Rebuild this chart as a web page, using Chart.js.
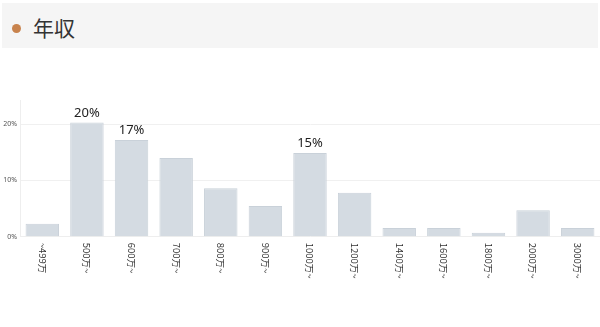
<!DOCTYPE html>
<html><head><meta charset="utf-8">
<script src="https://cdn.jsdelivr.net/npm/chart.js@4"></script>
<style>
html,body{margin:0;padding:0;background:#fff;width:600px;height:327px;overflow:hidden;font-family:"Noto Sans CJK JP","Noto Sans",sans-serif;}
#hdr{position:absolute;left:2px;top:3px;width:596px;height:45px;background:#f5f5f5;}
#dot{position:absolute;left:12px;top:24px;width:9px;height:9px;border-radius:50%;background:#c8834d;}
#ttl{position:absolute;left:33px;top:10px;font-size:21px;line-height:34px;color:#333;}
#wrap{position:absolute;left:0;top:0;width:600px;height:327px;}
</style></head><body>
<div id="hdr"></div><div id="dot"></div><div id="ttl">年収</div>
<div id="wrap"><canvas id="c" width="600" height="327"></canvas></div>
<script>
const categories = ["~499万","500万~","600万~","700万~","800万~","900万~","1000万~","1200万~","1400万~","1600万~","1800万~","2000万~","3000万~"];
const values = [2.3, 20.3, 17.2, 14.0, 8.6, 5.45, 14.9, 7.8, 1.55, 1.55, 0.7, 4.7, 1.55];
const valueLabels = ["", "20%", "17%", "", "", "", "15%", "", "", "", "", "", ""];
const yTicks = [0, 10, 20];

const labelPlugin = {
  id: 'labels',
  afterDatasetsDraw(chart) {
    const ctx = chart.ctx;
    const meta = chart.getDatasetMeta(0);
    const xs = chart.scales.x;
    ctx.save();
    ctx.fillStyle = '#222';
    ctx.font = '13px "Noto Sans", sans-serif';
    ctx.textAlign = 'center';
    ctx.textBaseline = 'bottom';
    meta.data.forEach((bar, i) => {
      if (valueLabels[i]) ctx.fillText(valueLabels[i], bar.x, bar.y - 3);
    });
    ctx.fillStyle = '#333';
    ctx.font = '9.5px "Noto Sans CJK JP", sans-serif';
    ctx.textAlign = 'left';
    ctx.textBaseline = 'middle';
    categories.forEach((c, i) => {
      const x = xs.getPixelForValue(i);
      ctx.save();
      ctx.translate(x, xs.top + 6);
      ctx.rotate(Math.PI / 2);
      ctx.fillText(c, 0, 0);
      ctx.restore();
    });
    ctx.restore();
  }
};

new Chart(document.getElementById('c'), {
  type: 'bar',
  data: {
    labels: categories,
    datasets: [{
      data: values,
      backgroundColor: '#d4dbe2',
      borderColor: '#c9d1d9',
      borderWidth: 1,
      categoryPercentage: 1,
      barPercentage: 0.75
    }]
  },
  options: {
    responsive: false,
    animation: false,
    layout: { padding: { top: 100, right: 0, left: 0, bottom: 0 } },
    plugins: { legend: { display: false }, tooltip: { enabled: false } },
    scales: {
      x: {
        grid: { display: false },
        border: { color: '#eeeeee', dash: [2, 2] },
        ticks: { display: false },
        afterFit(s) { s.height = 90.3; }
      },
      y: {
        min: 0, max: 24.3,
        afterBuildTicks(s) { s.ticks = yTicks.map(v => ({ value: v })); },
        ticks: {
          includeBounds: false,
          padding: 3,
          color: '#555',
          font: { size: 7, family: '"Noto Sans", sans-serif' },
          callback: v => v + '%'
        },
        grid: { color: '#f0f0f0', drawTicks: false },
        border: { color: '#eeeeee' },
        afterFit(s) { s.width = 20; }
      }
    }
  },
  plugins: [labelPlugin]
});
</script>
</body></html>
